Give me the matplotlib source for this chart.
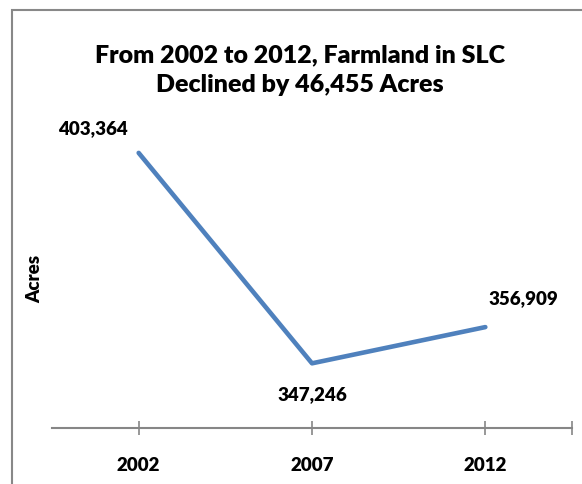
import matplotlib
matplotlib.use('Agg')
import matplotlib.pyplot as plt
from matplotlib.patches import Rectangle

# Farmland acreage in SLC (census of agriculture years)
years = ['2002', '2007', '2012']
acres = [403364, 347246, 356909]
value_labels = ['403,364', '347,246', '356,909']

title = 'From 2002 to 2012, Farmland in SLC\nDeclined by 46,455 Acres'

plt.rcParams['font.family'] = ['Lato', 'DejaVu Sans']
W = 'heavy'

fig = plt.figure(figsize=(5.82, 4.85), dpi=100)
ax = fig.add_axes([52 / 582, 1 - 429 / 485, 520 / 582, 300 / 485])

x = list(range(len(years)))
ax.plot(x, acres, color='#4F81BD', linewidth=3.3, solid_capstyle='round',
        solid_joinstyle='round')

ax.set_xlim(-0.5, 2.5)
ax.set_ylim(330000, 410000)

# data labels
offsets = [(-46, 25), (0, -30), (38, 29)]
for xi, yi, lab, (dx, dy) in zip(x, acres, value_labels, offsets):
    ax.annotate(lab, (xi, yi), xytext=(dx, dy), textcoords='offset pixels',
                ha='center', va='center', fontsize=13.5, fontweight=W)

for side in ['left', 'right', 'top']:
    ax.spines[side].set_visible(False)
ax.spines['bottom'].set_color('#868686')
ax.spines['bottom'].set_linewidth(1.5)

ax.set_yticks([])
ax.set_xticks(x + [2.5])
ax.set_xticklabels(years + [''], fontweight=W)
ax.tick_params(axis='x', direction='inout', length=10, width=1.2,
               color='#868686', labelsize=13.5, pad=15)
ax.set_ylabel('Acres', fontsize=13.5, fontweight=W, labelpad=6)

fig.text(300 / 582, 1 - 70 / 485, title, ha='center', va='center',
         fontsize=18, fontweight=W, linespacing=1.4)

# outer chart frame (runs off the right and bottom edge)
fig.patches.append(Rectangle((12 / 582, -0.1), 1.0, 1.1 - 11 / 485,
                             transform=fig.transFigure, fill=False,
                             edgecolor='#888888', linewidth=1.5))

plt.savefig('out.png', dpi=100)
